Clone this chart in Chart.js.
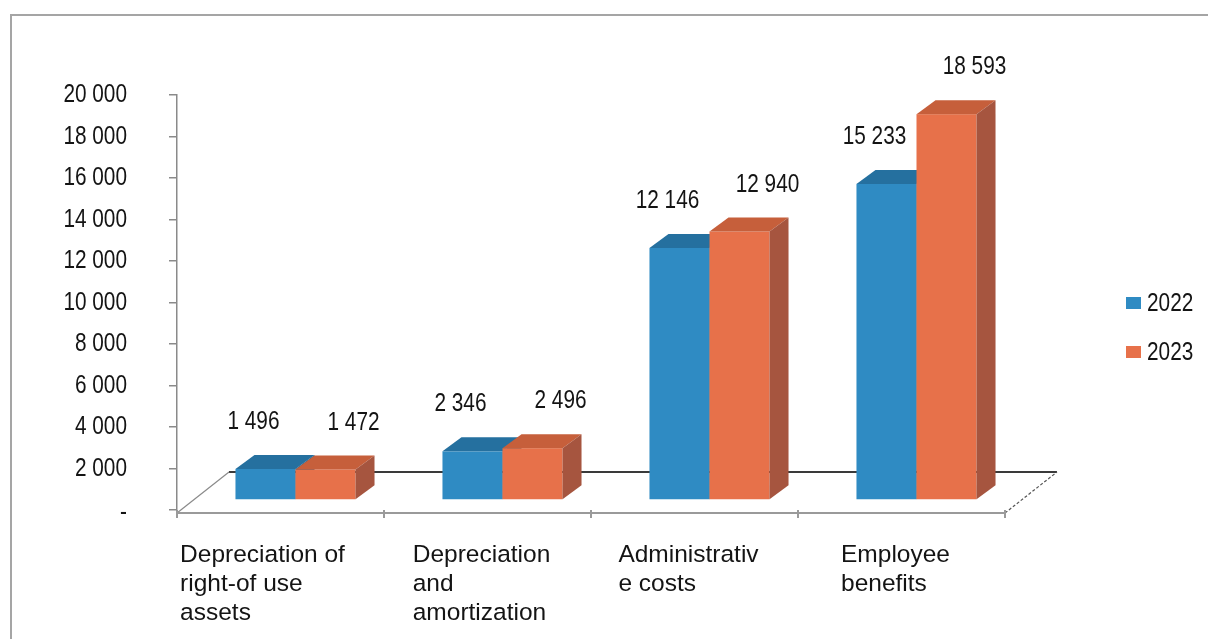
<!DOCTYPE html>
<html>
<head>
<meta charset="utf-8">
<script src="https://cdn.jsdelivr.net/npm/chart.js@4.4.1/dist/chart.umd.min.js"></script>
<style>
  html, body { margin: 0; padding: 0; background: #fff; }
  #wrap { width: 1208px; height: 639px; }
</style>
</head>
<body>
<div id="wrap"><canvas id="costChart" width="1208" height="639"></canvas></div>
<script>
// categories (already wrapped the way they are printed under the floor)
const categories = [
  ['Depreciation of', 'right-of use', 'assets'],
  ['Depreciation', 'and', 'amortization'],
  ['Administrativ', 'e costs'],
  ['Employee', 'benefits']
];
const years = ['2022', '2023'];
const values2022 = [1496, 2346, 12146, 15233];
const values2023 = [1472, 2496, 12940, 18593];
const yMax = 20000;
const yStep = 2000;

const faces = [
  { front: '#2f8bc3', top: '#25709f', side: '#1f5e86' },
  { front: '#e7714a', top: '#c65f3b', side: '#a6553f' }
];

const NUM_FONT = '26px "Liberation Sans", Arial, sans-serif';
const NARROW = 0.8;                 // numbers are set in a condensed face
const CAT_FONT = '24.5px "Liberation Sans", Arial, sans-serif';
const INK = '#141414';

const BOX = { dx: 19, dy: -14 };    // depth of each bar
const SHIFT = { dx: 15, dy: -10 };  // bars stand a little behind the floor's front edge
const FLOOR = { dx: 52, dy: -41 };  // depth of the floor
const labelNudge = [-12, 28];       // value labels sit off-centre, as Excel put them

function fmt(v) {
  if (v === 0) return '-';
  return String(v).replace(/\B(?=(\d{3})+(?!\d))/g, ' ');
}

function narrowText(ctx, text, x, y) {
  ctx.save();
  ctx.translate(x, y);
  ctx.scale(NARROW, 1);
  ctx.fillText(text, 0, 0);
  ctx.restore();
}

function drawBox(ctx, x0, x1, top, base, c) {
  ctx.fillStyle = c.front;
  ctx.fillRect(x0, top, x1 - x0, base - top);
  ctx.fillStyle = c.top;
  ctx.beginPath();
  ctx.moveTo(x0, top);
  ctx.lineTo(x0 + BOX.dx, top + BOX.dy);
  ctx.lineTo(x1 + BOX.dx, top + BOX.dy);
  ctx.lineTo(x1, top);
  ctx.closePath();
  ctx.fill();
  ctx.fillStyle = c.side;
  ctx.beginPath();
  ctx.moveTo(x1, top);
  ctx.lineTo(x1 + BOX.dx, top + BOX.dy);
  ctx.lineTo(x1 + BOX.dx, base + BOX.dy);
  ctx.lineTo(x1, base);
  ctx.closePath();
  ctx.fill();
}

const bars3d = {
  id: 'bars3d',
  beforeDraw(chart) {
    const ctx = chart.ctx;
    const a = chart.chartArea;
    ctx.save();
    // outer frame
    ctx.strokeStyle = '#a5a5a5';
    ctx.lineWidth = 2;
    ctx.strokeRect(11, 15, 1400, 800);

    const fy = a.bottom + 3;
    // back edge of the floor
    ctx.strokeStyle = '#3a3a3a';
    ctx.lineWidth = 2;
    ctx.beginPath();
    ctx.moveTo(a.left + FLOOR.dx, fy + FLOOR.dy);
    ctx.lineTo(a.right + FLOOR.dx, fy + FLOOR.dy);
    ctx.stroke();
    // left and right sides
    ctx.strokeStyle = '#8a8a8a';
    ctx.lineWidth = 1.2;
    ctx.beginPath();
    ctx.moveTo(a.left, fy);
    ctx.lineTo(a.left + FLOOR.dx, fy + FLOOR.dy);
    ctx.stroke();
    ctx.strokeStyle = '#555';
    ctx.setLineDash([3, 2]);
    ctx.beginPath();
    ctx.moveTo(a.right, fy);
    ctx.lineTo(a.right + FLOOR.dx, fy + FLOOR.dy);
    ctx.stroke();
    ctx.setLineDash([]);
    // front edge with category separators
    ctx.strokeStyle = '#9a9a9a';
    ctx.lineWidth = 2;
    ctx.beginPath();
    ctx.moveTo(a.left, fy);
    ctx.lineTo(a.right, fy);
    ctx.stroke();
    const cw = (a.right - a.left) / categories.length;
    for (let i = 0; i <= categories.length; i++) {
      const x = a.left + i * cw;
      ctx.beginPath();
      ctx.moveTo(x, fy - 3);
      ctx.lineTo(x, fy + 5);
      ctx.stroke();
    }
    ctx.restore();
  },
  beforeDatasetsDraw(chart) {
    const ctx = chart.ctx;
    const metas = chart.data.datasets.map((d, i) => chart.getDatasetMeta(i));
    ctx.save();
    for (let i = 0; i < categories.length; i++) {
      metas.forEach((meta, d) => {
        const p = meta.data[i].getProps(['x', 'y', 'base', 'width'], true);
        const x0 = p.x - p.width / 2 + SHIFT.dx;
        const x1 = p.x + p.width / 2 + SHIFT.dx;
        drawBox(ctx, x0, x1, p.y + SHIFT.dy, p.base + SHIFT.dy, faces[d]);
      });
    }
    ctx.restore();
    return false;
  },
  afterDraw(chart) {
    const ctx = chart.ctx;
    const xs = chart.scales.x;
    const ys = chart.scales.y;
    ctx.save();
    ctx.fillStyle = INK;
    ctx.font = NUM_FONT;
    ctx.textBaseline = 'middle';

    // value axis labels, right-aligned left of the tick marks
    ctx.textAlign = 'right';
    ys.ticks.forEach(t => {
      narrowText(ctx, fmt(t.value), 127, ys.getPixelForValue(t.value) + (t.value === 0 ? 3 : 0));
    });

    // value labels above the bars
    ctx.textAlign = 'center';
    chart.data.datasets.forEach((ds, d) => {
      const meta = chart.getDatasetMeta(d);
      meta.data.forEach((el, i) => {
        const p = el.getProps(['x', 'y'], true);
        narrowText(ctx, fmt(ds.data[i]), p.x + SHIFT.dx + labelNudge[d], p.y + SHIFT.dy - 47);
      });
    });

    // legend
    ctx.textAlign = 'left';
    years.forEach((y, d) => {
      const cy = 303 + d * 49;
      ctx.fillStyle = faces[d].front;
      ctx.fillRect(1126, cy - 6, 15, 12);
      ctx.fillStyle = INK;
      narrowText(ctx, y, 1147, cy + 1);
    });

    // category labels: block centred under the category, lines left-aligned
    ctx.font = CAT_FONT;
    ctx.textBaseline = 'alphabetic';
    categories.forEach((lines, i) => {
      const cx = xs.getPixelForTick(i);
      const w = Math.max(...lines.map(l => ctx.measureText(l).width));
      const left = i === 0 ? cx - w / 2 - 18 : cx - w / 2 - 6;
      lines.forEach((l, k) => ctx.fillText(l, left, 562 + k * 29));
    });
    ctx.restore();
  }
};

new Chart(document.getElementById('costChart'), {
  type: 'bar',
  data: {
    labels: categories,
    datasets: [
      { label: years[0], data: values2022, backgroundColor: faces[0].front },
      { label: years[1], data: values2023, backgroundColor: faces[1].front }
    ]
  },
  options: {
    responsive: false,
    animation: false,
    devicePixelRatio: 1,
    datasets: { bar: { barPercentage: 1, categoryPercentage: 0.58 } },
    layout: { padding: { left: 0, top: 95, right: 203, bottom: 129 } },
    plugins: { legend: { display: false }, tooltip: { enabled: false } },
    scales: {
      x: { display: false },
      y: {
        min: 0,
        max: yMax,
        afterFit(scale) { scale.width = 177; },
        ticks: { stepSize: yStep, display: false },
        grid: { drawOnChartArea: false, drawTicks: true, tickLength: 8, color: '#8a8a8a', lineWidth: 1.5 },
        border: { display: true, color: '#8a8a8a', width: 1.5 }
      }
    }
  },
  plugins: [bars3d]
});
</script>
</body>
</html>
